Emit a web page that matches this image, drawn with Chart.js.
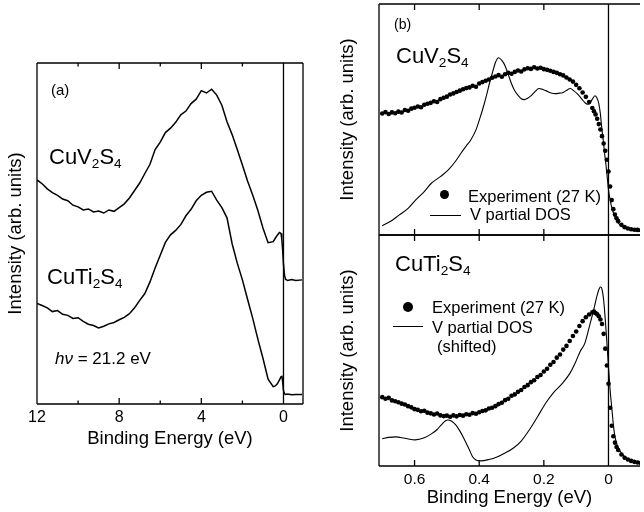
<!DOCTYPE html>
<html>
<head>
<meta charset="utf-8">
<script src="https://cdn.jsdelivr.net/npm/chart.js@4.4.0/dist/chart.umd.min.js"></script>
<style>
body{margin:0;background:#fff;width:644px;height:512px;position:relative;overflow:hidden;font-family:"Liberation Sans",Arial,Helvetica,sans-serif;color:#000}
canvas{position:absolute}
.t{position:absolute;line-height:1;white-space:nowrap}
.t sub{font-size:0.62em;vertical-align:-0.28em;line-height:0}
.dot{position:absolute;border-radius:50%;background:#000}
.ln{position:absolute;height:1.2px;background:#000}
</style>
</head>
<body>
<canvas id="chartA" width="320" height="512" style="left:0;top:0"></canvas>
<canvas id="chartB1" width="324" height="240" style="left:320px;top:0"></canvas>
<canvas id="chartB2" width="324" height="282" style="left:320px;top:230px"></canvas>

<div class="t" style="left:51px;top:82px;font-size:15px">(a)</div>
<div class="t" style="left:49px;top:146px;font-size:22px">CuV<sub>2</sub>S<sub>4</sub></div>
<div class="t" style="left:47px;top:266px;font-size:22px">CuTi<sub>2</sub>S<sub>4</sub></div>
<div class="t" style="left:55px;top:350px;font-size:17px"><i>hν</i> = 21.2 eV</div>

<div class="t" style="left:394px;top:17px;font-size:14px">(b)</div>
<div class="t" style="left:396px;top:45px;font-size:22px">CuV<sub>2</sub>S<sub>4</sub></div>
<div class="dot" style="left:440px;top:190px;width:9px;height:9px"></div>
<div class="t" style="left:468px;top:188px;font-size:16.5px">Experiment (27 K)</div>
<div class="ln" style="left:430px;top:215px;width:31px"></div>
<div class="t" style="left:470px;top:206px;font-size:16.5px">V partial DOS</div>

<div class="t" style="left:395px;top:253px;font-size:22px">CuTi<sub>2</sub>S<sub>4</sub></div>
<div class="dot" style="left:403px;top:302px;width:10px;height:10px"></div>
<div class="t" style="left:432px;top:299px;font-size:16.5px">Experiment (27 K)</div>
<div class="ln" style="left:393px;top:326px;width:30px"></div>
<div class="t" style="left:432px;top:319px;font-size:16.5px">V partial DOS</div>
<div class="t" style="left:437px;top:338px;font-size:16.5px">(shifted)</div>

<script>
// ---- panel (a): valence band spectra, hv = 21.2 eV ----
const energyA = [12, 11.75, 11.5, 11.25, 11, 10.75, 10.5, 10.25, 10, 9.75, 9.5, 9.25, 9, 8.75, 8.5, 8.25,
  8, 7.75, 7.5, 7.25, 7, 6.75, 6.5, 6.25, 6, 5.75, 5.5, 5.25, 5, 4.75, 4.5, 4.25,
  4, 3.75, 3.5, 3.25, 3, 2.75, 2.5, 2.25, 2, 1.75, 1.5, 1.25, 1, 0.75,
  0.5, 0.4, 0.3, 0.2, 0.12, 0.08, 0.04, 0, -0.05, -0.1, -0.2, -0.4, -0.6, -0.9];
const cuv2s4A = [65.7, 64.6, 63.1, 62.0, 61.2, 60.1, 59.6, 58.3, 57.8, 56.9, 57.2, 56.3, 56.6, 56.0, 56.9, 56.5,
  57.6, 58.7, 60.4, 62.6, 64.8, 67.6, 70.3, 74.6, 76.8, 79.6, 80.9, 82.6, 84.8, 85.9, 88.1, 89.4,
  91.9, 91.2, 92.3, 90.6, 87.6, 82.8, 79.0, 74.6, 70.1, 65.4, 61.3, 56.8, 51.6, 47.3,
  47.6, 48.6, 49.5, 50.3, 50.0, 48.2, 45.0, 41.0, 37.8, 36.6, 36.2, 36.5, 36.2, 36.4];
const cuti2s4A = [29.5, 28.9, 28.2, 27.1, 27.4, 26.3, 26.0, 25.1, 25.3, 24.2, 23.4, 23.0, 22.3, 22.8, 23.5, 23.9,
  24.7, 25.4, 26.5, 28.2, 30.4, 32.4, 35.8, 39.9, 43.6, 47.4, 49.6, 50.9, 52.6, 55.2, 57.1, 59.6,
  61.2, 62.1, 62.4, 59.8, 57.6, 54.6, 47.0, 41.3, 36.4, 30.7, 25.2, 19.1, 13.4, 7.3,
  5.1, 5.3, 5.9, 7.0, 8.0, 8.3, 6.5, 3.9, 3.0, 2.8, 2.9, 2.7, 2.8, 2.8];
const tickLabelsA = [12, 8, 4, 0];
const minorTicksA = [10, 6, 2];

// ---- panel (b): near E_F, experiment (27 K) and V partial DOS ----
const energyExp = [0.70, 0.69, 0.68, 0.67, 0.66, 0.65, 0.64, 0.63, 0.62, 0.61,
  0.60, 0.59, 0.58, 0.57, 0.56, 0.55, 0.54, 0.53, 0.52, 0.51,
  0.50, 0.49, 0.48, 0.47, 0.46, 0.45, 0.44, 0.43, 0.42, 0.41,
  0.40, 0.39, 0.38, 0.37, 0.36, 0.35, 0.34, 0.33, 0.32, 0.31,
  0.30, 0.29, 0.28, 0.27, 0.26, 0.25, 0.24, 0.23, 0.22, 0.21,
  0.20, 0.19, 0.18, 0.17, 0.16, 0.15, 0.14, 0.13, 0.12, 0.11,
  0.10, 0.09, 0.08, 0.07, 0.06, 0.05,
  0.045, 0.04, 0.035, 0.03, 0.025, 0.02, 0.015, 0.01, 0.005, 0, -0.005, -0.01, -0.015, -0.02,
  -0.025, -0.03, -0.04, -0.05, -0.06, -0.07, -0.08, -0.09, -0.10];
const expCuV2S4 = [52.6, 53.2, 52.4, 53.1, 52.7, 53.4, 53.0, 54.1, 53.8, 54.7,
  55.1, 55.6, 55.3, 56.4, 56.8, 57.2, 57.9, 57.6, 58.8, 59.4,
  59.9, 60.8, 61.3, 61.9, 62.5, 63.1, 63.6, 63.9, 64.6, 64.2,
  65.6, 66.2, 66.8, 67.3, 68.1, 68.6, 69.2, 68.5, 69.6, 70.2,
  69.8, 70.6, 71.2, 70.8, 71.7, 72.2, 71.9, 72.6, 72.1, 72.4,
  71.8, 71.5, 71.1, 70.6, 70.2, 69.6, 69.1, 68.2, 67.3, 66.4,
  65.0, 63.5, 61.7, 59.8, 57.6, 55.0,
  53.6, 52.2, 50.3, 48.0, 45.7, 42.8, 39.6, 36.5, 32.6, 27.5, 21.0, 15.1, 11.2, 8.9,
  7.2, 6.0, 4.4, 3.4, 2.8, 2.5, 2.3, 2.2, 2.1];
const expCuTi2S4 = [29.8, 29.1, 29.5, 28.4, 28.0, 27.6, 27.0, 26.6, 25.9, 25.4,
  24.6, 24.3, 23.7, 23.9, 23.1, 22.8, 22.3, 22.7, 21.9, 21.6,
  21.8, 21.3, 21.9, 21.5, 22.1, 21.8, 22.4, 22.2, 22.9, 22.6,
  23.3, 23.8, 24.1, 24.9, 25.2, 25.9, 26.8, 27.4, 28.5, 29.1,
  30.4, 31.0, 32.1, 32.9, 34.2, 35.0, 36.3, 37.1, 38.5, 39.4,
  40.9, 42.1, 43.8, 45.0, 46.9, 48.3, 50.4, 52.0, 54.1, 56.3,
  58.2, 60.6, 62.7, 64.4, 65.6, 66.5,
  66.9, 66.2, 65.7, 64.8, 63.4, 61.5, 57.2, 50.8, 43.5, 35.6, 25.2, 17.4, 12.9, 10.1,
  8.2, 6.9, 5.0, 3.6, 2.8, 2.2, 1.8, 1.5, 1.3];

const energyDosV = [0.70, 0.67, 0.648, 0.62, 0.597, 0.57, 0.548, 0.52, 0.497, 0.475, 0.457, 0.44, 0.427,
  0.41, 0.397, 0.385, 0.376, 0.368, 0.36, 0.35, 0.34, 0.33, 0.32, 0.31, 0.30, 0.29, 0.279, 0.27,
  0.26, 0.25, 0.239, 0.228, 0.215, 0.205, 0.194, 0.18, 0.164, 0.152, 0.142, 0.13, 0.118, 0.107,
  0.097, 0.085, 0.073, 0.065, 0.058, 0.05, 0.042, 0.036, 0.03, 0.025, 0.021, 0.016, 0.012, 0.008,
  0.003, 0, -0.005, -0.01, -0.02, -0.03, -0.04, -0.06, -0.08, -0.10];
const dosCuV2S4 = [4.0, 6.3, 8.6, 11.5, 15.1, 18.8, 22.4, 25.3, 28.0, 31.6, 35.3, 38.6, 40.9,
  45.5, 50.9, 56.5, 61.2, 65.8, 69.8, 74.6, 76.7, 75.6, 73.3, 69.4, 65.5, 62.4, 60.3, 59.0,
  58.6, 59.2, 60.3, 62.0, 63.4, 63.1, 62.5, 61.6, 61.2, 61.4, 61.6, 62.6, 63.4, 62.4,
  61.2, 59.3, 57.3, 56.6, 56.9, 58.8, 60.3, 59.4, 56.9, 52.3, 46.6, 40.8, 35.3, 30.5,
  23.7, 19.6, 15.3, 12.0, 7.8, 5.2, 3.9, 2.6, 2.0, 1.7];

const energyDosShifted = [0.70, 0.68, 0.658, 0.63, 0.597, 0.57, 0.548, 0.53, 0.518, 0.505, 0.497, 0.485,
  0.472, 0.46, 0.445, 0.43, 0.42, 0.41, 0.396, 0.37, 0.345, 0.32, 0.294, 0.27, 0.245, 0.22, 0.194,
  0.17, 0.142, 0.12, 0.103, 0.088, 0.073, 0.058, 0.046, 0.035, 0.028, 0.024, 0.02, 0.015, 0.01,
  0.005, 0, -0.005, -0.01, -0.015, -0.02, -0.03, -0.04, -0.055, -0.07, -0.10];
const dosShifted = [11.8, 12.4, 12.6, 12.0, 11.3, 12.2, 13.9, 15.8, 17.7, 19.5, 19.9, 19.4,
  17.7, 15.2, 11.3, 6.9, 3.9, 2.6, 2.2, 2.8, 3.9, 5.6, 7.8, 10.8, 15.6, 21.2, 27.3,
  31.8, 35.9, 40.0, 44.6, 49.5, 53.2, 61.0, 67.5, 74.0, 77.0, 77.5, 76.5, 71.9, 63.5,
  53.5, 42.9, 33.0, 25.5, 18.0, 12.6, 8.0, 5.6, 3.4, 2.2, 1.3];
const tickLabelsB = [0.6, 0.4, 0.2, 0];

Chart.defaults.font.family = '"Liberation Sans", Arial, Helvetica, sans-serif';
Chart.defaults.color = '#000';
Chart.defaults.animation = false;

const pts = (xs, ys) => xs.map((x, i) => ({x: x, y: ys[i]}));

// frame, inward tick marks and the E_F line, all placed through the x scale
const frame = {
  id: 'frame',
  afterDatasetsDraw(chart, args, o) {
    const {ctx, chartArea: a} = chart;
    const x = chart.scales.x;
    ctx.save();
    ctx.strokeStyle = '#000';
    ctx.lineWidth = 1.3;
    ctx.beginPath();
    if (o.sides.includes('left')) { ctx.moveTo(a.left, a.top); ctx.lineTo(a.left, a.bottom); }
    if (o.sides.includes('right')) { ctx.moveTo(a.right, a.top); ctx.lineTo(a.right, a.bottom); }
    if (o.sides.includes('top')) { ctx.moveTo(a.left, a.top); ctx.lineTo(a.right, a.top); }
    if (o.sides.includes('bottom')) { ctx.moveTo(a.left, a.bottom); ctx.lineTo(a.right, a.bottom); }
    const x0 = x.getPixelForValue(0);
    ctx.moveTo(x0, a.top); ctx.lineTo(x0, a.bottom);
    o.ticks.forEach(t => {
      const px = x.getPixelForValue(t.v);
      ctx.moveTo(px, a.top); ctx.lineTo(px, a.top + t.len);
      ctx.moveTo(px, a.bottom); ctx.lineTo(px, a.bottom - t.len);
    });
    ctx.stroke();
    ctx.restore();
  }
};

function xAxis(min, max, labels, show, H, pad, size) {
  return {
    type: 'linear', reverse: true, min: min, max: max, display: show,
    grid: {display: false, drawTicks: false},
    border: {display: false},
    afterBuildTicks: s => { s.ticks = labels.map(v => ({value: v})); },
    afterFit: s => { s.height = H; },
    ticks: {padding: pad, font: {size: size}, autoSkip: false, maxRotation: 0, callback: v => String(v)},
    title: {display: true, text: 'Binding Energy (eV)', font: {size: 18.5}, padding: 0}
  };
}

function yAxis(W, pad) {
  return {
    type: 'linear', min: 0, max: 100,
    grid: {display: false, drawTicks: false},
    border: {display: false},
    ticks: {display: false},
    afterFit: s => { s.width = W; },
    title: {display: true, text: 'Intensity (arb. units)', font: {size: 18.5}, padding: {top: pad, bottom: 0}}
  };
}

const lineSet = (data, w) => ({data: data, showLine: true, pointRadius: 0, borderColor: '#000', borderWidth: w, fill: false});
const dotSet = data => ({data: data, showLine: false, pointRadius: 2.3, pointBorderWidth: 0, backgroundColor: '#000'});

new Chart(document.getElementById('chartA'), {
  type: 'scatter',
  data: {datasets: [
    lineSet(pts(energyA, cuv2s4A), 1.5),
    lineSet(pts(energyA, cuti2s4A), 1.5)
  ]},
  options: {
    responsive: false, devicePixelRatio: 1,
    layout: {padding: {left: 0, right: 17, top: 63, bottom: 62}},
    plugins: {legend: {display: false}, tooltip: {enabled: false},
      frame: {sides: ['left', 'right', 'top', 'bottom'],
        ticks: tickLabelsA.map(v => ({v: v, len: 6})).concat(minorTicksA.map(v => ({v: v, len: 3.5})))}},
    scales: {x: xAxis(-0.95, 12, tickLabelsA, true, 46, 4.4, 16), y: yAxis(37, 5)}
  },
  plugins: [frame]
});

new Chart(document.getElementById('chartB1'), {
  type: 'scatter',
  data: {datasets: [
    dotSet(pts(energyExp, expCuV2S4)),
    lineSet(pts(energyDosV, dosCuV2S4), 1.1)
  ]},
  options: {
    responsive: false, devicePixelRatio: 1,
    layout: {padding: {left: 0, right: 0, top: 3, bottom: 5}},
    elements: {line: {cubicInterpolationMode: 'monotone'}},
    plugins: {legend: {display: false}, tooltip: {enabled: false},
      frame: {sides: ['left', 'top', 'bottom'], ticks: [0.6, 0.4, 0.2].map(v => ({v: v, len: 6}))}},
    scales: {x: xAxis(-0.0975, 0.71, tickLabelsB, false, 0, 4.7, 15.5), y: yAxis(59, 17)}
  },
  plugins: [frame]
});

new Chart(document.getElementById('chartB2'), {
  type: 'scatter',
  data: {datasets: [
    dotSet(pts(energyExp, expCuTi2S4)),
    lineSet(pts(energyDosShifted, dosShifted), 1.1)
  ]},
  options: {
    responsive: false, devicePixelRatio: 1,
    layout: {padding: {left: 0, right: 0, top: 5, bottom: 3}},
    elements: {line: {cubicInterpolationMode: 'monotone'}},
    plugins: {legend: {display: false}, tooltip: {enabled: false},
      frame: {sides: ['left', 'top', 'bottom'], ticks: [0.6, 0.4, 0.2].map(v => ({v: v, len: 6}))}},
    scales: {x: xAxis(-0.0975, 0.71, tickLabelsB, true, 43, 4.7, 15.5), y: yAxis(59, 17)}
  },
  plugins: [frame]
});
</script>
</body>
</html>
